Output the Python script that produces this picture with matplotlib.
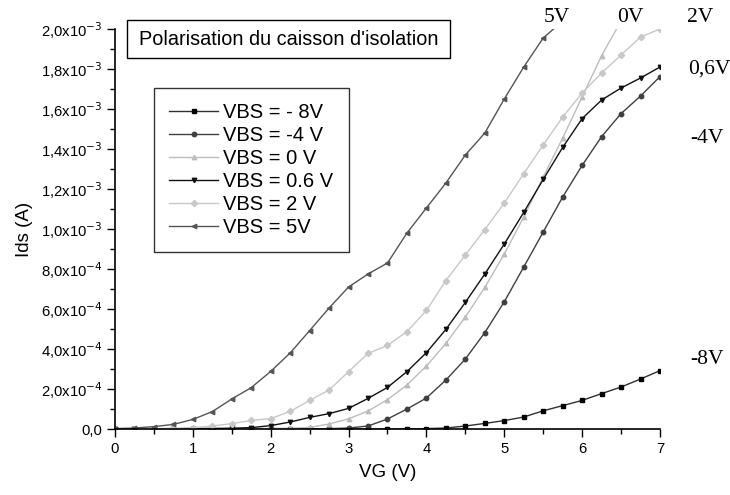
import matplotlib

matplotlib.use("Agg")
import matplotlib.pyplot as plt
import numpy as np
from matplotlib.patches import Rectangle
from matplotlib.ticker import FuncFormatter, MultipleLocator

plt.rcParams["font.family"] = ["Liberation Sans", "DejaVu Sans"]
plt.rcParams["axes.unicode_minus"] = False

# gate voltage sweep (V), 0.25 V steps
VG = np.arange(0, 7.01, 0.25)

# drain current in units of 1e-4 A
IDS_M8 = [0, 0, 0, 0, 0, 0, 0, 0, 0, 0, 0, 0, 0, 0, 0, 0,
          0.02, 0.05, 0.15, 0.28, 0.42, 0.6, 0.91, 1.17, 1.43, 1.77, 2.1, 2.5, 2.92]
IDS_M4 = [0, 0, 0, 0, 0, 0, 0, 0, 0, 0.01, 0.01, 0.02, 0.05, 0.15, 0.5, 1.0,
          1.55, 2.45, 3.5, 4.82, 6.36, 8.1, 9.85, 11.6, 13.18, 14.62, 15.77, 16.65, 17.62]
IDS_0 = [0, 0, 0, 0.01, 0.01, 0.01, 0.02, 0.02, 0.03, 0.04, 0.08, 0.25, 0.51, 0.9, 1.47, 2.2,
         3.15, 4.28, 5.6, 7.08, 8.75, 10.6, 12.6, 14.55, 16.6, 18.67, 20.4]
IDS_06 = [0, 0, 0.01, 0.01, 0.02, 0.03, 0.04, 0.07, 0.17, 0.35, 0.58, 0.77, 1.03, 1.53,
          2.08, 2.87, 3.82, 4.98, 6.33, 7.75, 9.25, 10.83, 12.48, 14.08, 15.52, 16.45,
          17.05, 17.55, 18.1]
IDS_2 = [0, 0.01, 0.02, 0.04, 0.07, 0.15, 0.27, 0.43, 0.52, 0.88, 1.43, 1.95, 2.87, 3.78,
         4.18, 4.87, 5.93, 7.42, 8.7, 9.97, 11.3, 12.77, 14.2, 15.6, 16.8, 17.8, 18.7,
         19.6, 20.0]
IDS_5 = [0.02, 0.05, 0.12, 0.23, 0.48, 0.87, 1.5, 2.07, 2.88, 3.8, 4.92, 6.05, 7.1, 7.75,
         8.3, 9.8, 11.05, 12.3, 13.7, 14.8, 16.5, 18.1, 19.55, 20.4]

SERIES = [
    ("VBS = - 8V", IDS_M8, "#303030", "#000000", "s"),
    ("VBS = -4 V", IDS_M4, "#404040", "#404040", "o"),
    ("VBS = 0 V", IDS_0, "#bdbdbd", "#bdbdbd", "^"),
    ("VBS = 0.6 V", IDS_06, "#111111", "#111111", "v"),
    ("VBS = 2 V", IDS_2, "#c8c8c8", "#c8c8c8", "D"),
    ("VBS = 5V", IDS_5, "#555555", "#555555", "<"),
]

END_LABELS = ["5V", "0V", "2V", "0,6V", "-4V", "-8V"]
END_POS = [(0.787, 1.03), (0.921, 1.03), (1.05, 1.03), (1.051, 0.9), (1.055, 0.7275),
           (1.055, 0.175)]

TITLE = "Polarisation du caisson d'isolation"


def sci_fmt(v, _pos):
    if abs(v) < 1e-12:
        return "0,0"
    exp = int(np.floor(np.log10(abs(v)) + 1e-9))
    mant = v / 10 ** exp
    return f"{mant:.1f}".replace(".", ",") + "x10$^{" + str(exp) + "}$"


fig = plt.figure(figsize=(7.3, 4.95), dpi=100)
ax = fig.add_axes([0.1575, 0.1333, 0.7466, 0.8081])

for label, ids, lc, mc, mk in SERIES:
    x = VG[: len(ids)]
    ax.plot(x, np.array(ids) * 1e-4, color=lc, lw=1.0, marker=mk, ms=3.2,
            mfc=mc, mec=mc, label=label)

ax.set_xlim(0, 7)
ax.set_ylim(0, 2.0e-3)
ax.xaxis.set_major_locator(MultipleLocator(1))
ax.xaxis.set_minor_locator(MultipleLocator(0.5))
ax.yaxis.set_major_locator(MultipleLocator(2e-4))
ax.yaxis.set_minor_locator(MultipleLocator(1e-4))
ax.yaxis.set_major_formatter(FuncFormatter(sci_fmt))
ax.tick_params(which="major", direction="out", length=6, width=1, labelsize=10.7, pad=3)
ax.tick_params(which="minor", direction="out", length=3.5, width=1)
ax.spines["top"].set_visible(False)
ax.spines["right"].set_visible(False)
ax.spines["left"].set_linewidth(1.2)
ax.spines["bottom"].set_linewidth(1.2)

ax.set_xlabel("VG (V)", fontsize=13.5, labelpad=6)
ax.set_ylabel("Ids (A)", fontsize=13.5, labelpad=6)

leg = ax.legend(loc="upper left", bbox_to_anchor=(0.0716, 0.8525), borderaxespad=0,
                fontsize=14.5, frameon=True, fancybox=False, edgecolor="black",
                handlelength=2.45, handletextpad=0.25, labelspacing=0.2,
                borderpad=0.75)
leg.get_frame().set_linewidth(1.0)

# title box, partly above the plot area
ax.add_patch(Rectangle((0.022, 0.9275), 0.593, 0.095, transform=ax.transAxes,
                       fc="white", ec="black", lw=1.0, clip_on=False, zorder=5))
ax.text(0.044, 0.975, TITLE, transform=ax.transAxes, fontsize=14.3,
        va="center", ha="left", zorder=6)

for txt, (fx, fy) in zip(END_LABELS, END_POS):
    ax.text(fx, fy, txt, transform=ax.transAxes, fontsize=15.5,
            family="Liberation Serif", ha="left", va="center", clip_on=False)

fig.savefig("out.png", dpi=100)
